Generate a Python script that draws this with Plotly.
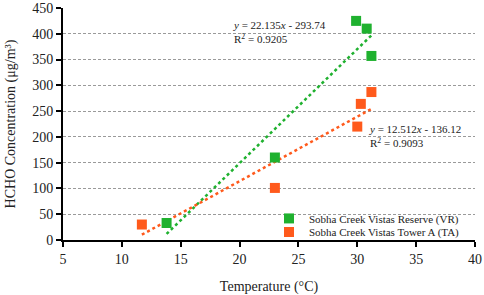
import plotly.graph_objects as go

# Data
vr_temp = [13.8, 23.0, 29.9, 30.8, 31.2]
vr_hcho = [33, 160, 425, 410, 357]
ta_temp = [11.7, 23.0, 30.0, 30.3, 31.2]
ta_hcho = [30, 101, 220, 264, 287]

vr_slope, vr_icpt, vr_r2 = 22.135, -293.74, 0.9205
ta_slope, ta_icpt, ta_r2 = 12.512, -136.12, 0.9093

x_ticks = [5, 10, 15, 20, 25, 30, 35, 40]
y_ticks = [0, 50, 100, 150, 200, 250, 300, 350, 400, 450]

GREEN = "#1fb12f"
ORANGE = "#ff5a1c"
FONT = "Liberation Serif"

fig = go.Figure()

def trend(xs, m, b):
    x0, x1 = min(xs), max(xs)
    return [x0, x1], [m * x0 + b, m * x1 + b]

tx, ty = trend(vr_temp, vr_slope, vr_icpt)
fig.add_trace(go.Scatter(x=tx, y=ty, mode="lines", showlegend=False, hoverinfo="skip",
                         line=dict(color=GREEN, width=2.5, dash="dot")))
tx, ty = trend(ta_temp, ta_slope, ta_icpt)
fig.add_trace(go.Scatter(x=tx, y=ty, mode="lines", showlegend=False, hoverinfo="skip",
                         line=dict(color=ORANGE, width=2.5, dash="dot")))

fig.add_trace(go.Scatter(x=vr_temp, y=vr_hcho, mode="markers",
                         name="Sobha Creek Vistas Reserve (VR)", legend="legend",
                         marker=dict(symbol="square", size=10, color=GREEN)))
fig.add_trace(go.Scatter(x=ta_temp, y=ta_hcho, mode="markers",
                         name="Sobha Creek Vistas Tower A (TA)", legend="legend2",
                         marker=dict(symbol="square", size=10, color=ORANGE)))

def eq_text(m, b, r2):
    sign = "-" if b < 0 else "+"
    return (f"<i>y</i> = {m}<i>x</i> {sign} {abs(b)}<br>"
            f"R<sup>2</sup> = {r2}")

fig.add_annotation(x=19.25, y=403, xref="x", yref="y", text=eq_text(vr_slope, vr_icpt, vr_r2),
                   showarrow=False, xanchor="left", yanchor="middle", align="left",
                   font=dict(family=FONT, size=11, color="#222"))
fig.add_annotation(x=30.85, y=201, xref="x", yref="y", text=eq_text(ta_slope, ta_icpt, ta_r2),
                   showarrow=False, xanchor="left", yanchor="middle", align="left",
                   font=dict(family=FONT, size=11, color="#222"))

leg_common = dict(xanchor="left", yanchor="middle", bgcolor="rgba(0,0,0,0)",
                  font=dict(family=FONT, size=11, color="#222"), itemwidth=30,
                  borderwidth=0)
fig.update_layout(
    width=484, height=295,
    margin=dict(l=63, r=9, t=8, b=55),
    paper_bgcolor="white", plot_bgcolor="white",
    font=dict(family=FONT, size=14, color="#222"),
    showlegend=True,
    legend=dict(x=0.5, y=0.093, **leg_common),
    legend2=dict(x=0.5, y=0.035, **leg_common),
)
fig.update_xaxes(range=[5, 40], tickvals=x_ticks, showgrid=False, zeroline=False,
                 showline=True, linecolor="black", linewidth=2, automargin=False,
                 ticks="outside", ticklen=5, tickwidth=1.5, tickcolor="black",
                 tickfont=dict(family=FONT, size=14, color="#222"),
                 ticklabeloverflow="allow",
                 title=dict(text="Temperature (°C)", font=dict(family=FONT, size=14), standoff=17))
fig.update_yaxes(range=[0, 450], tickvals=y_ticks, showgrid=True, gridcolor="#9a9a9a",
                 griddash="3px,2px", gridwidth=1, zeroline=False,
                 showline=True, linecolor="black", linewidth=2, automargin=False,
                 ticks="outside", ticklen=5, tickwidth=1.5, tickcolor="black",
                 tickfont=dict(family=FONT, size=14, color="#222"),
                 title=dict(text="HCHO Concentration (μg/m³)", font=dict(family=FONT, size=14), standoff=13))

fig.write_html("out.html", config={"displayModeBar": False},
               post_script="document.body.style.margin='0';")
